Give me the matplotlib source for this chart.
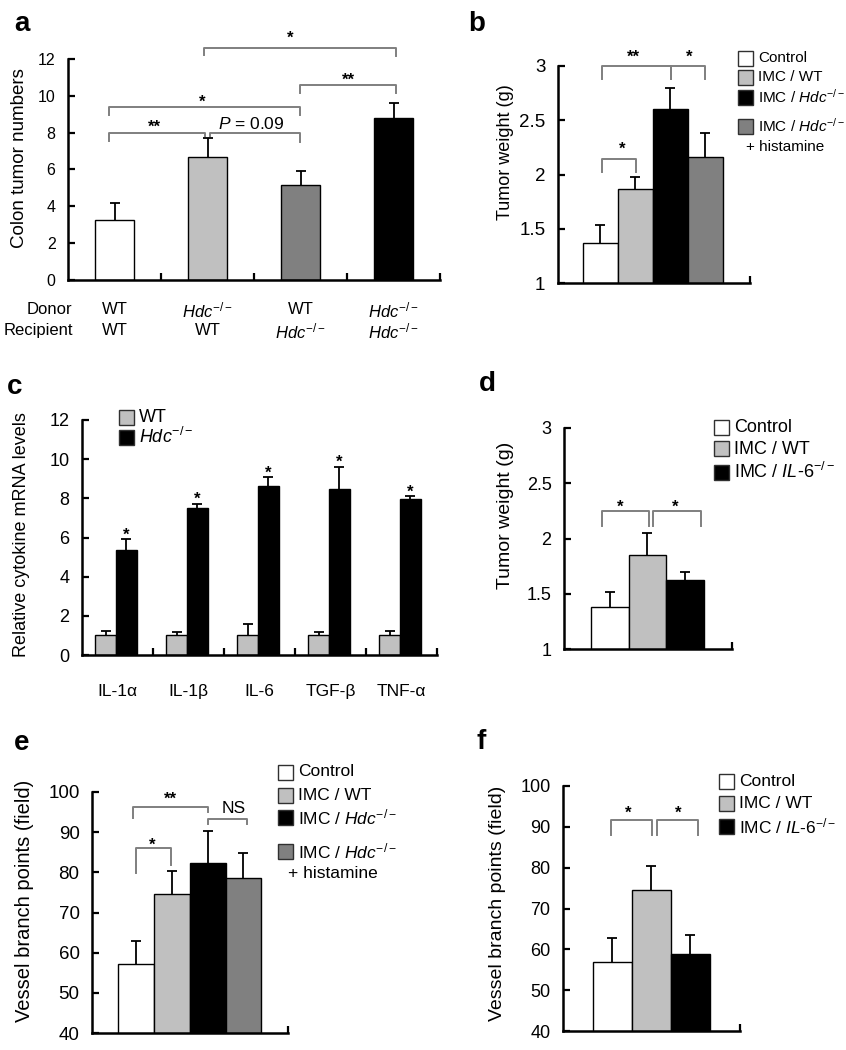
import numpy as np
import matplotlib
matplotlib.use("Agg")
import matplotlib.pyplot as plt
from matplotlib.patches import Rectangle

plt.rcParams["font.family"] = ["Liberation Sans", "DejaVu Sans"]
plt.rcParams["mathtext.fontset"] = "custom"
plt.rcParams["mathtext.rm"] = "Liberation Sans"
plt.rcParams["mathtext.it"] = "Liberation Sans:italic"
plt.rcParams["mathtext.bf"] = "Liberation Sans:bold"

HDC = r"$\mathit{Hdc}^{-/-}$"
IL6 = r"$\mathit{IL}$-$\mathit{6}^{-/-}$"

# ---- data ----
# a: colon tumor numbers
a_donor = ["WT", HDC, "WT", HDC]
a_recipient = ["WT", "WT", HDC, HDC]
a_vals = [3.25, 6.7, 5.15, 8.8]
a_err = [0.95, 1.0, 0.75, 0.8]

# b: tumor weight (g)
b_groups = ["Control", "IMC / WT", "IMC / " + HDC, "IMC / " + HDC]
b_vals = [1.37, 1.87, 2.6, 2.16]
b_err = [0.16, 0.11, 0.2, 0.22]

# c: relative cytokine mRNA levels
c_cytokines = ["IL-1α", "IL-1β", "IL-6", "TGF-β", "TNF-α"]
c_series = ["WT", HDC]
c_wt = [1.0, 1.0, 1.0, 1.0, 1.0]
c_wt_err = [0.25, 0.15, 0.58, 0.17, 0.25]
c_hdc = [5.35, 7.5, 8.65, 8.5, 7.95]
c_hdc_err = [0.55, 0.2, 0.42, 1.1, 0.15]

# d: tumor weight (g)
d_groups = ["Control", "IMC / WT", "IMC / " + IL6]
d_vals = [1.38, 1.85, 1.62]
d_err = [0.14, 0.2, 0.08]

# e: vessel branch points
e_groups = ["Control", "IMC / WT", "IMC / " + HDC, "IMC / " + HDC]
e_vals = [57.1, 74.7, 82.2, 78.7]
e_err = [5.8, 5.7, 8.0, 6.0]

# f: vessel branch points
f_groups = ["Control", "IMC / WT", "IMC / " + IL6]
f_vals = [56.9, 74.5, 58.9]
f_err = [5.9, 5.9, 4.6]

WHITE, LGRAY, DGRAY, BLACK = "white", "#c0c0c0", "#808080", "black"
BRACKET = "#7f7f7f"

W, H = 846, 1050
fig = plt.figure(figsize=(W / 100, H / 100), dpi=100)


def axes_px(x0, y0, x1, y1):
    return fig.add_axes([x0 / W, 1 - y1 / H, (x1 - x0) / W, (y1 - y0) / H])


def style(ax, fs):
    for s in ("top", "right"):
        ax.spines[s].set_visible(False)
    for s in ("left", "bottom"):
        ax.spines[s].set_linewidth(1.8)
    ax.tick_params(axis="both", direction="in", length=5, width=1.6,
                   labelsize=fs, pad=9)
    ax.tick_params(axis="x", labelbottom=False)


def bars(ax, x, vals, err, colors, width):
    ax.bar(x, vals, width=width, color=colors, edgecolor="black", linewidth=1.0, zorder=2)
    eb = ax.errorbar(x, vals, yerr=[np.zeros(len(vals)), err], fmt="none", ecolor="black",
                     elinewidth=1.3, capsize=3.5, capthick=1.3, zorder=3)
    # only the upper cap, as in the original
    eb[1][0].set_visible(False)


def bracket(ax, x0, x1, y, d0, d1):
    ax.plot([x0, x0, x1, x1], [y - d0, y, y, y - d1], color=BRACKET, lw=1.4,
            clip_on=False, zorder=4)


def star(ax, x, y, s, fs=12):
    ax.annotate(s, (x, y), xytext=(0, -7), textcoords="offset points", ha="center",
                va="baseline", fontsize=fs, fontweight="bold", annotation_clip=False)


def legend_px(x, ys, labels, colors, fs, size=15):
    for y, lab, c in zip(ys, labels, colors):
        fig.add_artist(Rectangle((x / W, 1 - (y + size / 2) / H), size / W, size / H,
                                 transform=fig.transFigure, facecolor=c,
                                 edgecolor="#303030", lw=1.0))
        fig.text((x + size + 5) / W, 1 - y / H, lab, ha="left", va="center", fontsize=fs)


def ylabel_px(x, y, text, fs):
    fig.text(x / W, 1 - y / H, text, rotation=90, ha="center", va="center", fontsize=fs)


def panel_px(x, y, letter):
    fig.text(x / W, 1 - y / H, letter, ha="center", va="center", fontsize=20,
             fontweight="bold")


# ---------------- a ----------------
ax = axes_px(68, 59, 440, 280)
style(ax, 11.5)
xa = np.arange(len(a_vals))
bars(ax, xa, a_vals, a_err, [WHITE, LGRAY, DGRAY, BLACK], 0.41)
ax.set_xticks(xa + 0.5)
ax.set_yticks(np.arange(0, 13, 2))
bracket(ax, -0.06, 0.97, 8.0, 0.45, 0.2)
bracket(ax, 1.03, 1.99, 8.0, 0.2, 0.5)
star(ax, 0.43, 8.55, "**")
ax.text(1.47, 8.45, r"$\mathit{P}$ = 0.09", ha="center", va="center", fontsize=12.5)
bracket(ax, -0.06, 1.99, 9.4, 0.45, 0.45)
star(ax, 0.94, 9.95, "*")
bracket(ax, 1.99, 3.03, 10.6, 0.45, 0.45)
star(ax, 2.52, 11.15, "**")
bracket(ax, 0.96, 3.03, 12.6, 0.4, 0.45)
star(ax, 1.89, 13.4, "*")
trans = ax.get_xaxis_transform()
for i in range(len(a_vals)):
    ax.text(xa[i], -30 / 221, a_donor[i], transform=trans, ha="center", va="center", fontsize=12)
    ax.text(xa[i], -51 / 221, a_recipient[i], transform=trans, ha="center", va="center", fontsize=12)
ax.text(-0.45, -30 / 221, "Donor", transform=trans, ha="right", va="center", fontsize=12)
ax.text(-0.45, -51 / 221, "Recipient", transform=trans, ha="right", va="center", fontsize=12)
ax.set_xlim(-0.5, 3.5)
ax.set_ylim(0, 12)
ylabel_px(20, 158, "Colon tumor numbers", 13.5)
panel_px(22, 24, "a")

# ---------------- b ----------------
ax = axes_px(558, 66, 750, 283)
style(ax, 13.5)
xb = np.arange(len(b_vals))
bars(ax, xb, b_vals, b_err, [WHITE, LGRAY, BLACK, DGRAY], 1.0)
ax.set_xlim(-1.2, 4.27)
ax.set_xticks([4.27])
ax.set_yticks([1, 1.5, 2, 2.5, 3])
ax.set_yticklabels(["1", "1.5", "2", "2.5", "3"])
ax.set_ylim(1, 3)
bracket(ax, 0.06, 2.03, 3.0, 0.12, 0.12)
bracket(ax, 2.03, 3.0, 3.0, 0.12, 0.12)
star(ax, 0.94, 3.13, "**")
star(ax, 2.54, 3.13, "*")
bracket(ax, 0.06, 1.03, 2.14, 0.12, 0.12)
star(ax, 0.63, 2.28, "*")
legend_px(738, [58, 77, 97, 126], b_groups, [WHITE, LGRAY, BLACK, DGRAY], 11)
fig.text(746 / W, 1 - 147 / H, "+ histamine", ha="left", va="center", fontsize=11)
ylabel_px(505, 152, "Tumor weight (g)", 13)
panel_px(477, 24, "b")

# ---------------- c ----------------
ax = axes_px(82, 420, 437, 655)
style(ax, 13)
xc = np.arange(len(c_cytokines))
bars(ax, xc - 0.165, c_wt, c_wt_err, LGRAY, 0.29)
bars(ax, xc + 0.125, c_hdc, c_hdc_err, BLACK, 0.29)
for i in range(len(c_cytokines)):
    star(ax, xc[i] + 0.125, c_hdc[i] + c_hdc_err[i] + 0.5, "*")
ax.set_xticks(xc + 0.5)
ax.set_xticks(xc, c_cytokines, minor=True)
ax.tick_params(axis="x", which="minor", length=0, labelbottom=True, labelsize=12.5, pad=21)
ax.set_yticks(np.arange(0, 13, 2))
ax.set_xlim(-0.5, 4.5)
ax.set_ylim(0, 12)
legend_px(119, [417, 437], c_series, [LGRAY, BLACK], 13)
ylabel_px(22, 535, "Relative cytokine mRNA levels", 13)
panel_px(15, 387, "c")

# ---------------- d ----------------
ax = axes_px(564, 428, 732, 649)
style(ax, 13)
xd = np.arange(len(d_vals))
bars(ax, xd, d_vals, d_err, [WHITE, LGRAY, BLACK], 1.0)
ax.set_xlim(-1.23, 3.26)
ax.set_xticks([3.26])
ax.set_yticks([1, 1.5, 2, 2.5, 3])
ax.set_yticklabels(["1", "1.5", "2", "2.5", "3"])
ax.set_ylim(1, 3)
bracket(ax, -0.22, 1.05, 2.25, 0.14, 0.14)
bracket(ax, 1.16, 2.43, 2.25, 0.14, 0.14)
star(ax, 0.27, 2.33, "*")
star(ax, 1.74, 2.33, "*")
legend_px(714, [427, 449, 472], d_groups, [WHITE, LGRAY, BLACK], 13)
ylabel_px(506, 515, "Tumor weight (g)", 14)
panel_px(487, 384, "d")

# ---------------- e ----------------
ax = axes_px(92, 792, 288, 1033)
style(ax, 13.5)
xe = np.arange(len(e_vals))
bars(ax, xe, e_vals, e_err, [WHITE, LGRAY, BLACK, DGRAY], 1.0)
ax.set_xlim(-1.22, 4.24)
ax.set_xticks([4.24])
ax.set_yticks(np.arange(40, 101, 10))
ax.set_ylim(40, 100)
bracket(ax, 0.0, 0.97, 86.0, 6.2, 4.2)
star(ax, 0.46, 88.0, "*")
bracket(ax, -0.07, 2.0, 96.2, 2.7, 1.2)
star(ax, 0.97, 99.5, "**")
bracket(ax, 2.0, 3.09, 93.2, 1.2, 1.2)
ax.text(2.73, 96.0, "NS", ha="center", va="center", fontsize=12.5)
legend_px(278, [772, 795, 817, 851], e_groups, [WHITE, LGRAY, BLACK, DGRAY], 12.5)
fig.text(288 / W, 1 - 873 / H, "+ histamine", ha="left", va="center", fontsize=12.5)
ylabel_px(25, 901, "Vessel branch points (field)", 14.5)
panel_px(22, 743, "e")

# ---------------- f ----------------
ax = axes_px(563, 786, 740, 1031)
style(ax, 13)
xf = np.arange(len(f_vals))
bars(ax, xf, f_vals, f_err, [WHITE, LGRAY, BLACK], 1.0)
ax.set_xlim(-1.26, 3.27)
ax.set_xticks([3.27])
ax.set_yticks(np.arange(40, 101, 10))
ax.set_ylim(40, 100)
bracket(ax, -0.03, 1.03, 91.7, 3.7, 3.7)
bracket(ax, 1.15, 2.2, 91.7, 3.7, 3.7)
star(ax, 0.41, 94.7, "*")
star(ax, 1.69, 94.7, "*")
legend_px(719, [781, 803, 826], f_groups, [WHITE, LGRAY, BLACK], 12.5)
ylabel_px(497, 903, "Vessel branch points (field)", 14)
panel_px(481, 742, "f")

fig.savefig("out.png", dpi=100)
